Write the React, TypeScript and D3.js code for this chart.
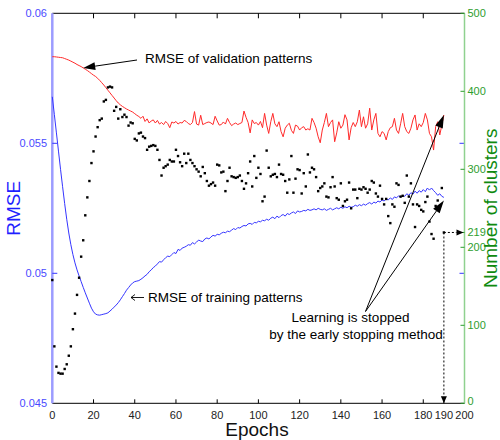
import React from "react";
import * as d3 from "d3";

// ---- Data ----
const xTicks = [0, 20, 40, 60, 80, 100, 120, 140, 160, 180, 190, 200];
const leftTicks = [0.045, 0.05, 0.055, 0.06];
const leftTickLabels = ["0.045", "0.05", "0.055", "0.06"];
const rightTicks = [0, 100, 200, 219, 300, 400, 500];
const stopEpoch = 190;
const stopClusters = 219;

// RMSE of validation patterns (epochs 0..190)
const validationRMSE = [
  0.05833, 0.05833, 0.05832, 0.05831, 0.0583, 0.05829, 0.05826, 0.05823, 0.0582, 0.05816,
  0.05812, 0.05808, 0.05803, 0.05799, 0.05795, 0.0579, 0.05785, 0.0578, 0.05774, 0.05768,
  0.05762, 0.05757, 0.0575, 0.05742, 0.05733, 0.05724, 0.05714, 0.05704, 0.05694, 0.05684,
  0.05674, 0.05664, 0.05655, 0.05648, 0.05642, 0.05637, 0.05632, 0.05628, 0.05624, 0.0562,
  0.05614, 0.05608, 0.05603,
  0.05596, 0.05604, 0.05584, 0.05594, 0.05578, 0.05586, 0.0559, 0.05578, 0.05588, 0.05574,
  0.0558, 0.05572, 0.05584, 0.05576, 0.0556, 0.05582, 0.05578, 0.05584, 0.05574, 0.0558,
  0.05578, 0.05588, 0.05584, 0.05576, 0.05572, 0.0558, 0.05622, 0.05574, 0.0557, 0.05608,
  0.05572, 0.05576, 0.0558, 0.05582, 0.05578, 0.05572, 0.05604, 0.05586, 0.0557, 0.05572,
  0.05582, 0.05574, 0.05596, 0.0558, 0.05568, 0.05574, 0.05578, 0.05572, 0.05576, 0.0558,
  0.05624, 0.056, 0.0558, 0.0554, 0.0559, 0.05576,
  0.0558, 0.0557, 0.05584, 0.0556, 0.05615, 0.0557, 0.05538, 0.05583, 0.05615, 0.05575,
  0.05564, 0.05583, 0.05545, 0.05525, 0.05558, 0.0557, 0.05577, 0.0555, 0.05538, 0.0557,
  0.05566, 0.05551, 0.0556, 0.05564, 0.05551, 0.05556, 0.05551, 0.05596, 0.0558, 0.05558,
  0.05525, 0.05502, 0.05551, 0.0558, 0.05615, 0.05564, 0.0558, 0.0559, 0.05506, 0.0554,
  0.05583, 0.05558, 0.0557, 0.0561, 0.0559, 0.05513, 0.0556, 0.0558, 0.05564,
  0.05583, 0.05628, 0.05564, 0.05602, 0.05558, 0.05575, 0.05635, 0.05551, 0.0559, 0.05615,
  0.05538, 0.05525, 0.05545, 0.05538, 0.05513, 0.05545, 0.0556, 0.05564, 0.05596, 0.05551,
  0.05538, 0.05575, 0.05615, 0.05564, 0.05545, 0.05538, 0.05558, 0.0559, 0.05609, 0.05551,
  0.05575, 0.05564, 0.0558, 0.05615, 0.0559, 0.05538, 0.05525, 0.05474, 0.05564, 0.05583,
  0.05532, 0.0557, 0.05609,
];

// RMSE of training patterns (epochs 0..190)
const trainingRMSE = [
  0.05679, 0.0561, 0.0554, 0.0547, 0.054, 0.05333, 0.05268, 0.05208, 0.05155, 0.0511,
  0.05072, 0.0504, 0.05013, 0.0499, 0.04968, 0.04946, 0.04925, 0.04905, 0.04885, 0.04866,
  0.04852, 0.04843, 0.0484, 0.04839, 0.04841, 0.04843, 0.04845, 0.04848, 0.04855, 0.04862,
  0.0487, 0.04878, 0.04887, 0.04898, 0.0491, 0.04922, 0.04935, 0.04945, 0.04955, 0.04963,
  0.04968, 0.0497, 0.04972, 0.04977, 0.04983, 0.0499, 0.04996, 0.05006, 0.05013, 0.05022,
  0.05028, 0.05036, 0.05045, 0.05043, 0.05052, 0.0506, 0.05066, 0.05064, 0.05072, 0.0508,
  0.05076, 0.05092, 0.05088, 0.05097, 0.051, 0.05104, 0.0511, 0.05108, 0.05118, 0.05113,
  0.0512, 0.05128, 0.05124, 0.05122, 0.05132, 0.05136, 0.05132, 0.0514, 0.05146, 0.05143,
  0.0515, 0.05148, 0.05154, 0.05158, 0.05156, 0.05162, 0.0516, 0.05166, 0.05172, 0.05168,
  0.05176, 0.05174, 0.0518, 0.05184, 0.05182, 0.0519, 0.05192, 0.05188, 0.05196, 0.05194,
  0.052, 0.05198, 0.05204, 0.05202, 0.05208, 0.05204, 0.05212, 0.05216, 0.0521, 0.0522,
  0.05214, 0.05222, 0.05226, 0.0522, 0.0523, 0.05226, 0.05232, 0.05236, 0.0523, 0.0524,
  0.05236, 0.05238, 0.05242, 0.0524, 0.05246, 0.05242, 0.05244, 0.05248, 0.05244, 0.0525,
  0.05246, 0.05244, 0.05248, 0.05242, 0.05246, 0.0525, 0.05244, 0.05248, 0.05252, 0.05248,
  0.05254, 0.0525, 0.05256, 0.05252, 0.05258, 0.05254, 0.05256, 0.05262, 0.05258, 0.05264,
  0.0526, 0.05266, 0.05262, 0.05268, 0.05272, 0.05266, 0.05274, 0.0527, 0.05278, 0.05274,
  0.05282, 0.05278, 0.05286, 0.05282, 0.0529, 0.05284, 0.05294, 0.0529, 0.05298, 0.05292,
  0.053, 0.05296, 0.05306, 0.053, 0.0531, 0.05304, 0.05316, 0.05308, 0.05318, 0.05312,
  0.05322, 0.05314, 0.05328, 0.0532, 0.05328, 0.05318, 0.0531, 0.053, 0.05306, 0.05296,
  0.05292,
];

// Number of clusters (epochs 0..190)
const clusterCounts = [
  158, 73, 47, 39, 38, 38, 44, 50, 61, 73,
  95, 115, 139, 161, 188, 209, 241, 264, 285, 308,
  323, 342, 354, 363, 365, 387, 389, 405, 406, 405,
  375, 380, 365, 377, 367, 370, 367, 356, 360, 359,
  339, 337, 346, 347, 342, 340, 325, 329, 330, 331,
  330, 325, 312, 292, 302, 304, 306, 312, 310, 310,
  325, 317, 309, 304, 320, 308, 320, 312, 308, 304,
  300, 297, 291, 303, 295, 285, 279, 281, 283, 279,
  306, 305, 296, 297, 272, 285, 302, 291, 290, 289,
  290, 292, 285, 275, 282, 295, 310, 278, 317, 289,
  302, 294, 259, 265, 324, 302, 291, 293, 294, 290,
  306, 294, 293, 285, 270, 287, 317, 270, 288, 300,
  299, 269, 295, 278, 319, 296, 302, 300, 290, 272,
  276, 278, 282, 265, 264, 277, 290, 278, 263, 261,
  282, 253, 259, 261, 283, 250, 274, 274, 263, 275,
  274, 277, 275, 270, 274, 285, 283, 269, 265, 279,
  262, 255, 262, 240, 231, 255, 252, 282, 280, 265,
  266, 257, 292, 265, 282, 255, 226, 255, 253, 248,
  246, 258, 265, 233, 217, 211, 253, 260, 252, 276,
  219,
];

const FONT = "'Liberation Sans', Arial, Helvetica, sans-serif";

function Arrow({ x1, y1, x2, y2, len = 11, half = 3.5, dash }: any) {
  const a = Math.atan2(y2 - y1, x2 - x1);
  const bx = x2 - len * Math.cos(a);
  const by = y2 - len * Math.sin(a);
  const px = -Math.sin(a) * half;
  const py = Math.cos(a) * half;
  return (
    <g>
      <line x1={x1} y1={y1} x2={bx} y2={by} stroke="#000" strokeWidth={1} strokeDasharray={dash} />
      <polygon points={`${x2},${y2} ${bx + px},${by + py} ${bx - px},${by - py}`} fill="#000" />
    </g>
  );
}

export default function App() {
  const W = 500;
  const H = 440;
  const x = d3.scaleLinear().domain([0, 200]).range([52.3, 464.5]);
  const yL = d3.scaleLinear().domain([0.045, 0.06]).range([403.3, 13.3]);
  const yR = d3.scaleLinear().domain([0, 500]).range([403.3, 13.3]);
  const epochs = d3.range(validationRMSE.length);

  const lineL = d3
    .line<number>()
    .x((_, i) => x(i))
    .y((d) => yL(d));

  const left = x(0);
  const right = x(200);
  const top = yL(0.06);
  const bottom = yL(0.045);

  const stopX = x(stopEpoch);
  const stopY = yR(stopClusters);
  const lastIdx = validationRMSE.length - 1;
  const redEnd = { x: x(lastIdx), y: yL(validationRMSE[lastIdx]) };
  const blueEnd = { x: x(lastIdx), y: yL(trainingRMSE[lastIdx]) + 3 };
  const valArrowTip = { x: x(15), y: yL(validationRMSE[15]) };
  const origin = { x: 365.5, y: 311.5 };

  return (
    <svg
      width={W}
      height={H}
      style={{ position: "absolute", left: 0, top: 0, background: "#fff" }}
      fontFamily={FONT}
    >
      <rect width={W} height={H} fill="#fff" />

      {/* Top axis */}
      <line x1={left} x2={right} y1={top} y2={top} stroke="#000" strokeWidth={1} />
      {xTicks
        .filter((t) => t % 20 === 0 && t > 0 && t < 200)
        .map((t) => (
          <line key={"tt" + t} x1={x(t)} x2={x(t)} y1={top} y2={top + 5} stroke="#000" />
        ))}

      {/* Bottom axis */}
      <line x1={left} x2={right} y1={bottom} y2={bottom} stroke="#000" strokeWidth={1} />
      {xTicks.map((t) => (
        <g key={"bt" + t}>
          {t > 0 && t < 200 && (
            <line x1={x(t)} x2={x(t)} y1={bottom} y2={bottom - 4} stroke="#000" />
          )}
          <text x={x(t)} y={418.5} fontSize={11} textAnchor="middle" fill="#222">
            {t}
          </text>
        </g>
      ))}

      {/* Left axis */}
      <line x1={left} x2={left} y1={top} y2={bottom} stroke="#9c9cff" strokeWidth={2.5} />
      {leftTicks.map((t, i) => (
        <g key={"lt" + t}>
          {t > 0.045 && t < 0.06 && (
            <>
              <line x1={left} x2={left + 5} y1={yL(t)} y2={yL(t)} stroke="#3535ff" />
              <line x1={right - 5} x2={right} y1={yL(t)} y2={yL(t)} stroke="#3535ff" />
            </>
          )}
          <text x={47} y={yL(t)} dy="0.35em" fontSize={11} textAnchor="end" fill="#4a4aff">
            {leftTickLabels[i]}
          </text>
        </g>
      ))}

      {/* Right axis */}
      <line x1={right} x2={right} y1={top} y2={bottom} stroke="#8fd18f" strokeWidth={1.5} />
      {rightTicks.map((t) => (
        <g key={"rt" + t}>
          <line x1={right - 4} x2={right} y1={yR(t)} y2={yR(t)} stroke="#2e9e2e" />
          <text
            x={right + 3}
            y={yR(t)}
            dy={t === 0 ? "0.15em" : "0.35em"}
            fontSize={11}
            textAnchor="start"
            fill="#2e9e2e"
          >
            {t}
          </text>
        </g>
      ))}

      {/* Lines */}
      <path d={lineL(validationRMSE) || ""} fill="none" stroke="#ff2a2a" strokeWidth={1} />
      <path d={lineL(trainingRMSE) || ""} fill="none" stroke="#3535ff" strokeWidth={1} />

      {/* Scatter of cluster counts */}
      {clusterCounts.map((c, i) => (
        <rect key={i} x={x(epochs[i]) - 1.2} y={yR(c) - 1.2} width={2.4} height={2.4} fill="#000" />
      ))}

      {/* Axis titles */}
      <text x={257} y={436} fontSize={19} textAnchor="middle" fill="#111">
        Epochs
      </text>
      <text
        transform={`translate(20,${(top + bottom) / 2}) rotate(-90)`}
        fontSize={19}
        textAnchor="middle"
        fill="#1f1fff"
      >
        RMSE
      </text>
      <text
        transform={`translate(497,${(top + bottom) / 2}) rotate(-90)`}
        fontSize={19}
        textAnchor="middle"
        fill="#0f8a0f"
      >
        Number of clusters
      </text>

      {/* Annotations */}
      <Arrow x1={137} y1={60} x2={valArrowTip.x} y2={valArrowTip.y} len={12} half={4} />
      <text x={145} y={63} fontSize={13.5} fill="#000">
        RMSE of validation patterns
      </text>

      <line x1={131} x2={144} y1={297.5} y2={297.5} stroke="#000" strokeWidth={0.9} />
      <polyline points="135,294.5 131,297.5 135,300.5" fill="none" stroke="#000" strokeWidth={0.9} />
      <text x={148} y={302} fontSize={13.5} fill="#000">
        RMSE of training patterns
      </text>

      <Arrow x1={origin.x} y1={origin.y} x2={redEnd.x} y2={redEnd.y} len={13} half={4} />
      <Arrow x1={origin.x} y1={origin.y} x2={blueEnd.x} y2={blueEnd.y} len={13} half={4} />
      <text x={350.5} y={322} fontSize={13.5} textAnchor="middle" fill="#000">
        Learning is stopped
      </text>
      <text x={356} y={339} fontSize={13.5} textAnchor="middle" fill="#000">
        by the early stopping method
      </text>

      {/* Dotted lines from stop point */}
      <Arrow x1={stopX} y1={stopY} x2={stopX} y2={bottom} len={7} half={3} dash="2,2" />
      <Arrow x1={stopX} y1={stopY} x2={right - 1} y2={stopY} len={7} half={3} dash="2,2" />
    </svg>
  );
}
